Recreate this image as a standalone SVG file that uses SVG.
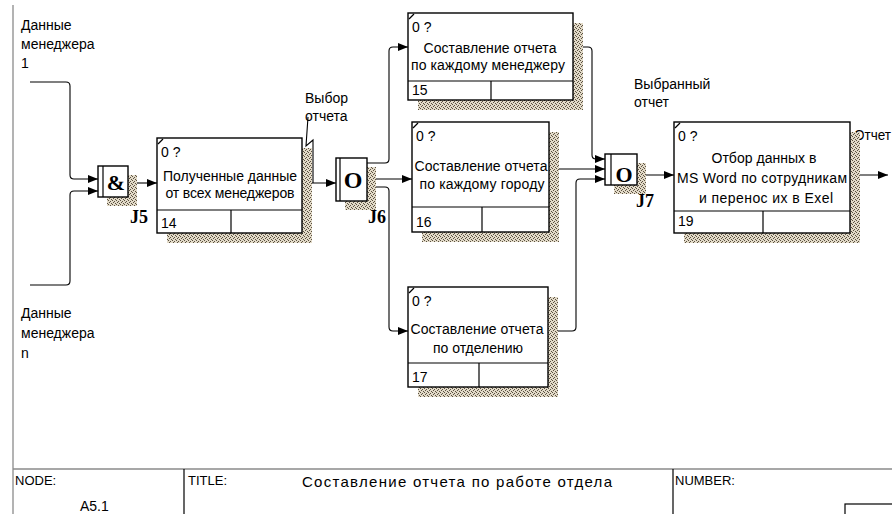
<svg xmlns="http://www.w3.org/2000/svg" width="892" height="514" viewBox="0 0 892 514">
  <style>
    .box { fill: #fff; stroke: #000; stroke-width: 1.4; }
    .div { stroke: #000; stroke-width: 1.2; fill: none; }
    .shadow { fill: url(#hatch); }
    .line { fill: none; stroke: #000; stroke-width: 1.1; }
    .arrow { marker-end: url(#head); }
    .t { font-family: "Liberation Sans", Arial, sans-serif; font-size: 14px; fill: #000; }
    .s { font-family: "Liberation Sans", Arial, sans-serif; font-size: 13px; fill: #000; }
    .mid { text-anchor: middle; }
    .j { font-family: "Liberation Serif", "Times New Roman", serif; font-weight: bold; fill: #000; }
    .frame { stroke: #8a8a8a; stroke-width: 1.3; fill: none; }
  </style>
  <defs>
    <pattern id="hatch" width="4" height="4" patternUnits="userSpaceOnUse">
      <rect width="4" height="4" fill="#e2dac8"/>
      <rect x="0" y="0" width="1" height="1" fill="#5a5040"/>
      <rect x="2" y="1" width="1" height="1" fill="#5a5040"/>
      <rect x="1" y="2" width="1" height="1" fill="#5a5040"/>
      <rect x="3" y="3" width="1" height="1" fill="#5a5040"/>
    </pattern>
    <marker id="head" markerWidth="10" markerHeight="8" refX="10" refY="4" orient="auto" markerUnits="userSpaceOnUse">
      <path d="M0,0 L10,4 L0,8 z" fill="#000"/>
    </marker>
  </defs>

  <rect width="892" height="514" fill="#fff"/>

  <!-- drawing frame -->
  <g id="frame">
    <line class="frame" x1="13" y1="5" x2="13" y2="514"/>
    <line class="frame" x1="13" y1="469" x2="892" y2="469"/>
    <line class="div" x1="184" y1="469" x2="184" y2="514"/>
    <line class="div" x1="673" y1="469" x2="673" y2="514"/>
    <rect class="div" x="845" y="504" width="60" height="20"/>
    <text class="s" x="15" y="485">NODE:</text>
    <text class="t" x="80" y="511">A5.1</text>
    <text class="s" x="188" y="485">TITLE:</text>
    <text class="t" x="302" y="487" style="font-size:15px" textLength="310" lengthAdjust="spacing">Составление отчета  по работе отдела</text>
    <text class="s" x="675" y="485">NUMBER:</text>
  </g>

  <!-- connectors and their labels -->
  <g id="connectors">
    <path class="line arrow" d="M30,82 H66 Q70,82 70,86 V175 Q70,179 74,179 H98"/>
    <path class="line arrow" d="M30,285 H66 Q70,285 70,281 V195 Q70,191 74,191 H98"/>
    <path class="line arrow" d="M128,183 H157"/>
    <path class="line arrow" d="M302,183 H336"/>
    <path class="line arrow" d="M367,163 H385 Q389,163 389,159 V51 Q389,47 393,47 H408"/>
    <path class="line arrow" d="M367,179 H412"/>
    <path class="line arrow" d="M367,187 H385 Q389,187 389,191 V327 Q389,331 393,331 H408"/>
    <path class="line arrow" d="M573,47 H588 Q592,47 592,51 V155 Q592,159 596,159 H605"/>
    <path class="line arrow" d="M549,169 H605"/>
    <path class="line arrow" d="M548,331 H572 Q576,331 576,327 V183 Q576,179 580,179 H605"/>
    <path class="line arrow" d="M637,175 H674"/>
    <path class="line arrow" d="M850,175 H888"/>
    <path class="line" d="M308,117 L306,146 L313,140 V183"/>

    <text class="t" x="21" y="30">Данные</text>
    <text class="t" x="21" y="49">менеджера</text>
    <text class="t" x="21" y="68">1</text>
    <text class="t" x="21" y="318">Данные</text>
    <text class="t" x="21" y="338">менеджера</text>
    <text class="t" x="21" y="358">n</text>
    <text class="t" x="305" y="103">Выбор</text>
    <text class="t" x="305" y="121">отчета</text>
    <text class="t" x="634" y="89">Выбранный</text>
    <text class="t" x="634" y="107">отчет</text>
    <text class="t" x="854" y="140" textLength="37" lengthAdjust="spacingAndGlyphs">Отчет</text>
  </g>

  <!-- junctions -->
  <g id="J5">
    <rect class="shadow" x="107" y="175" width="30" height="31"/>
    <rect class="box" x="98" y="166" width="30" height="31"/>
    <line class="div" x1="103" y1="166" x2="103" y2="197"/>
    <text class="j mid" x="116" y="190" font-size="22">&amp;</text>
    <text class="j" x="130" y="223" font-size="18">J5</text>
  </g>
  <g id="J6">
    <rect class="shadow" x="345" y="167" width="31" height="43"/>
    <rect class="box" x="336" y="158" width="31" height="43"/>
    <line class="div" x1="340" y1="158" x2="340" y2="201"/>
    <text class="j mid" x="353" y="188" font-size="24">O</text>
    <text class="j" x="368" y="223" font-size="18">J6</text>
  </g>
  <g id="J7">
    <rect class="shadow" x="614" y="163" width="32" height="31"/>
    <rect class="box" x="605" y="154" width="32" height="31"/>
    <line class="div" x1="611" y1="154" x2="611" y2="185"/>
    <text class="j mid" x="624" y="182" font-size="22">O</text>
    <text class="j" x="636" y="207" font-size="18">J7</text>
  </g>

  <!-- activity boxes -->
  <g id="box14">
    <rect class="shadow" x="167" y="148" width="145" height="95"/>
    <rect class="box" x="157" y="138" width="145" height="95"/>
    <line class="div" x1="158" y1="144" x2="163" y2="139"/>
    <line class="div" x1="157" y1="210" x2="302" y2="210"/>
    <line class="div" x1="231" y1="210" x2="231" y2="233"/>
    <text class="t" x="161" y="157">0 ?</text>
    <text class="t mid" x="230" y="181" textLength="134" lengthAdjust="spacing">Полученные данные</text>
    <text class="t mid" x="230" y="198" textLength="129" lengthAdjust="spacing">от всех менеджеров</text>
    <text class="t" x="161" y="228">14</text>
  </g>
  <g id="box15">
    <rect class="shadow" x="418" y="23" width="165" height="87"/>
    <rect class="box" x="408" y="13" width="165" height="87"/>
    <line class="div" x1="409" y1="19" x2="414" y2="14"/>
    <line class="div" x1="408" y1="81" x2="573" y2="81"/>
    <line class="div" x1="491" y1="81" x2="491" y2="100"/>
    <text class="t" x="412" y="32">0 ?</text>
    <text class="t mid" x="490" y="53" textLength="133" lengthAdjust="spacing">Составление отчета</text>
    <text class="t mid" x="488" y="70" textLength="154" lengthAdjust="spacing">по каждому менеджеру</text>
    <text class="t" x="412" y="95">15</text>
  </g>
  <g id="box16">
    <rect class="shadow" x="422" y="132" width="137" height="110"/>
    <rect class="box" x="412" y="122" width="137" height="110"/>
    <line class="div" x1="413" y1="128" x2="418" y2="123"/>
    <line class="div" x1="412" y1="207" x2="549" y2="207"/>
    <line class="div" x1="482" y1="207" x2="482" y2="232"/>
    <text class="t" x="416" y="141">0 ?</text>
    <text class="t mid" x="481" y="171" textLength="133" lengthAdjust="spacing">Составление отчета</text>
    <text class="t mid" x="482" y="189" textLength="125" lengthAdjust="spacing">по каждому городу</text>
    <text class="t" x="416" y="227">16</text>
  </g>
  <g id="box17">
    <rect class="shadow" x="418" y="297" width="140" height="100"/>
    <rect class="box" x="408" y="287" width="140" height="100"/>
    <line class="div" x1="409" y1="293" x2="414" y2="288"/>
    <line class="div" x1="408" y1="363" x2="548" y2="363"/>
    <line class="div" x1="479" y1="363" x2="479" y2="387"/>
    <text class="t" x="412" y="306">0 ?</text>
    <text class="t mid" x="477" y="334" textLength="133" lengthAdjust="spacing">Составление отчета</text>
    <text class="t mid" x="478" y="353" textLength="90" lengthAdjust="spacing">по отделению</text>
    <text class="t" x="412" y="382">17</text>
  </g>
  <g id="box19">
    <rect class="shadow" x="684" y="132" width="176" height="111"/>
    <rect class="box" x="674" y="122" width="176" height="111"/>
    <line class="div" x1="675" y1="128" x2="680" y2="123"/>
    <line class="div" x1="674" y1="211" x2="850" y2="211"/>
    <line class="div" x1="763" y1="211" x2="763" y2="233"/>
    <text class="t" x="678" y="141">0 ?</text>
    <text class="t mid" x="764" y="163" textLength="105" lengthAdjust="spacing">Отбор данных в</text>
    <text class="t mid" x="762" y="183" textLength="170" lengthAdjust="spacing">MS Word по сотрудникам</text>
    <text class="t mid" x="766" y="203" textLength="134" lengthAdjust="spacing">и перенос их в Exel</text>
    <text class="t" x="678" y="226">19</text>
  </g>
</svg>
